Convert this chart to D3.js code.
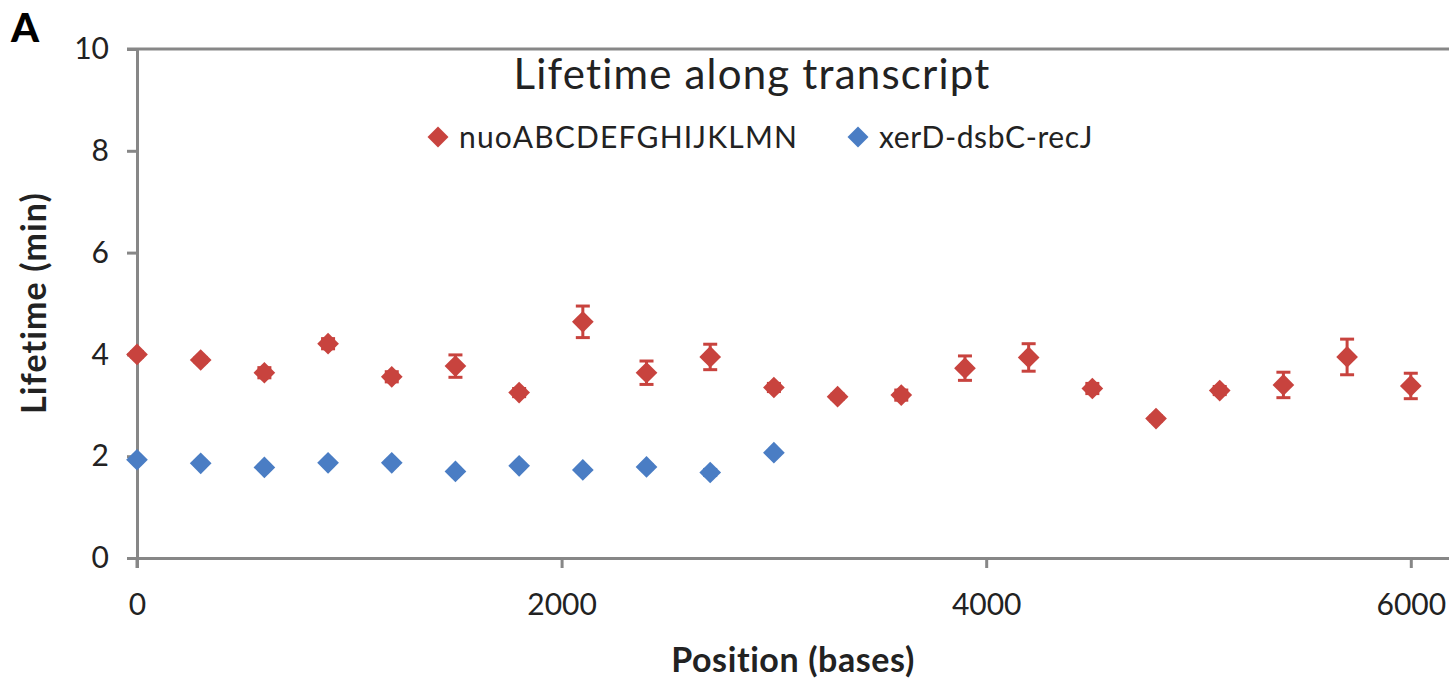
<!DOCTYPE html>
<html>
<head>
<meta charset="utf-8">
<script src="https://cdn.jsdelivr.net/npm/d3@7"></script>
<style>
  body { margin: 0; background: #fff; }
  svg text { font-family: Lato, "Open Sans", sans-serif; fill: #222; }
</style>
</head>
<body>
<svg id="chart" width="1449" height="680"></svg>
<script>
// positions along the transcript (bases)
var nuoPos = [0, 300, 600, 900, 1200, 1500, 1800, 2100, 2400, 2700, 3000, 3300, 3600, 3900, 4200, 4500, 4800, 5100, 5400, 5700, 6000];
var nuoLife = [4.00, 3.89, 3.64, 4.21, 3.56, 3.77, 3.25, 4.64, 3.64, 3.95, 3.35, 3.17, 3.20, 3.73, 3.94, 3.33, 2.74, 3.29, 3.40, 3.95, 3.38];
var nuoErr = [0.05, 0.05, 0.1, 0.1, 0.1, 0.22, 0.08, 0.31, 0.23, 0.25, 0.08, 0.05, 0.1, 0.24, 0.27, 0.1, 0.05, 0.08, 0.25, 0.35, 0.25];

var xerPos = [0, 300, 600, 900, 1200, 1500, 1800, 2100, 2400, 2700, 3000];
var xerLife = [1.93, 1.86, 1.78, 1.87, 1.87, 1.70, 1.81, 1.73, 1.79, 1.68, 2.07];
var xerErr = [0.04, 0.04, 0.04, 0.04, 0.04, 0.04, 0.04, 0.04, 0.04, 0.06, 0.04];

var yTicks = [0, 2, 4, 6, 8, 10];
var xTicks = [0, 2000, 4000, 6000];

var series = [
  { name: "nuoABCDEFGHIJKLMN", color: "#C8433E", pos: nuoPos, val: nuoLife, err: nuoErr },
  { name: "xerD-dsbC-recJ", color: "#4A7DC4", pos: xerPos, val: xerLife, err: xerErr }
];

var axisColor = "#878787";
var svg = d3.select("#chart");

var x = d3.scaleLinear().domain([0, 6180]).range([137, 1449]);
var y = d3.scaleLinear().domain([0, 10]).range([558, 49]);

// top border line at y = 10
svg.append("line")
  .attr("x1", x(0) - 10).attr("x2", 1449)
  .attr("y1", y(10)).attr("y2", y(10))
  .style("stroke", axisColor).style("stroke-width", 3);

var yAxis = svg.append("g")
  .attr("transform", "translate(" + x(0) + ",0)")
  .call(d3.axisLeft(y).tickValues(yTicks).tickSize(10).tickSizeOuter(0).tickPadding(18));

var xAxis = svg.append("g")
  .attr("transform", "translate(0," + y(0) + ")")
  .call(d3.axisBottom(x).tickValues(xTicks).tickFormat(d3.format("d")).tickSize(10).tickSizeOuter(0).tickPadding(26));

[yAxis, xAxis].forEach(function(a) {
  a.select(".domain").style("stroke", axisColor).style("stroke-width", 3);
  a.selectAll(".tick line").style("stroke", axisColor).style("stroke-width", 3);
  a.selectAll(".tick text").style("font-size", "30px").style("fill", "#222");
});
// extend vertical axis down past 0 like the original
yAxis.append("line").attr("x1", 0).attr("x2", 0).attr("y1", y(0)).attr("y2", y(0) + 10)
  .style("stroke", axisColor).style("stroke-width", 3);

var diamond = d3.symbol().type(d3.symbolDiamond2).size(300);

series.forEach(function(s) {
  var g = svg.append("g");
  var pts = s.pos.map(function(p, i) { return { p: p, v: s.val[i], e: s.err[i] }; });
  var eb = g.selectAll(".eb").data(pts).enter().append("g")
    .style("stroke", s.color).style("stroke-width", 3);
  eb.append("line")
    .attr("x1", function(d) { return x(d.p); }).attr("x2", function(d) { return x(d.p); })
    .attr("y1", function(d) { return y(d.v + d.e); }).attr("y2", function(d) { return y(d.v - d.e); });
  eb.append("line")
    .attr("x1", function(d) { return x(d.p) - 7; }).attr("x2", function(d) { return x(d.p) + 7; })
    .attr("y1", function(d) { return y(d.v + d.e); }).attr("y2", function(d) { return y(d.v + d.e); });
  eb.append("line")
    .attr("x1", function(d) { return x(d.p) - 7; }).attr("x2", function(d) { return x(d.p) + 7; })
    .attr("y1", function(d) { return y(d.v - d.e); }).attr("y2", function(d) { return y(d.v - d.e); });
  g.selectAll(".pt").data(pts).enter().append("path")
    .attr("d", diamond)
    .attr("transform", function(d) { return "translate(" + x(d.p) + "," + y(d.v) + ")"; })
    .style("fill", s.color);
});

// title
svg.append("text").attr("x", 752).attr("y", 89).attr("text-anchor", "middle")
  .style("font-size", "42px").style("letter-spacing", "1.2px").text("Lifetime along transcript");

// legend
var legX = [438, 858];
series.forEach(function(s, i) {
  svg.append("path").attr("d", d3.symbol().type(d3.symbolDiamond2).size(280))
    .attr("transform", "translate(" + legX[i] + ",137)").style("fill", s.color);
  svg.append("text").attr("x", legX[i] + 21).attr("y", 148)
    .style("font-size", "30px").style("letter-spacing", i ? "0.6px" : "1.2px").text(s.name);
});

// axis titles
svg.append("text").attr("transform", "translate(46,303) rotate(-90)")
  .attr("text-anchor", "middle").style("font-size", "34px").style("font-weight", "bold")
  .style("letter-spacing", "1.1px").text("Lifetime (min)");
svg.append("text").attr("x", 793).attr("y", 672).attr("text-anchor", "middle")
  .style("font-size", "34px").style("font-weight", "bold").style("letter-spacing", "0.6px")
  .text("Position (bases)");

// panel letter
svg.append("text").attr("x", 11).attr("y", 42).style("font-size", "40px")
  .style("font-weight", "900").style("fill", "#000").text("A");
</script>
</body>
</html>
